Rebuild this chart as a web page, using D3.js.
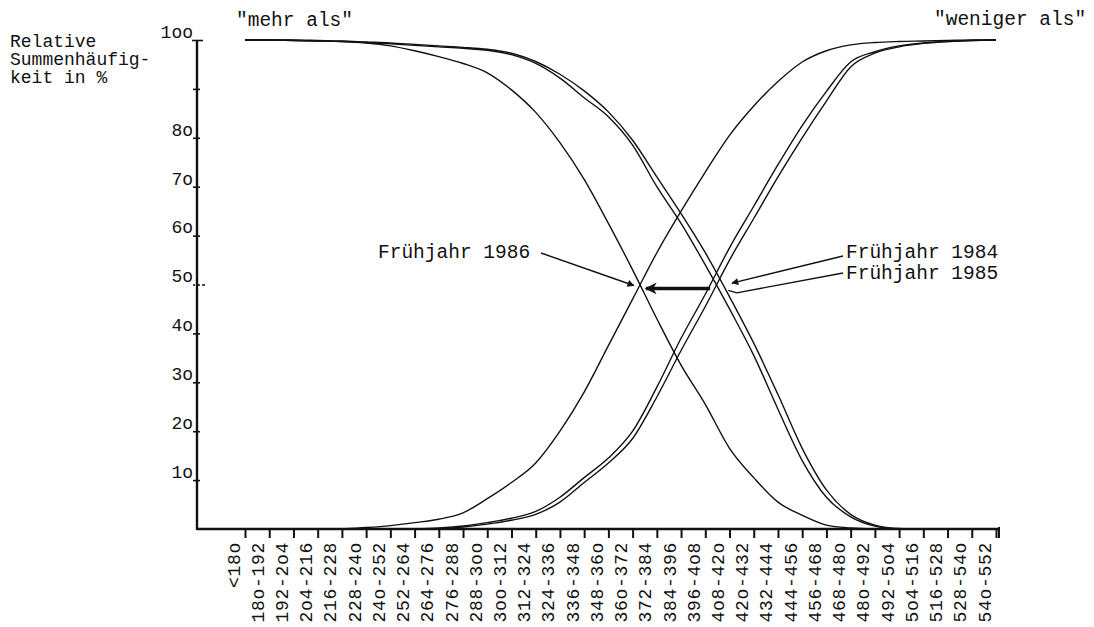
<!DOCTYPE html>
<html>
<head>
<meta charset="utf-8">
<script src="https://cdn.jsdelivr.net/npm/d3@7/dist/d3.min.js"></script>
<style>
  body { margin: 0; background: #fff; }
  text { font-family: "Liberation Mono", "DejaVu Sans Mono", monospace; fill: #111; }
</style>
</head>
<body>
<div id="chart"></div>
<script>
const width = 1094;
const height = 627;

// class labels as typed on the original (typewriter "o" for zero)
const categories = ["<18o", "18o-192", "192-2o4", "2o4-216", "216-228", "228-24o", "24o-252",
    "252-264", "264-276", "276-288", "288-3oo", "3oo-312", "312-324", "324-336", "336-348",
    "348-36o", "36o-372", "372-384", "384-396", "396-4o8", "4o8-42o", "42o-432", "432-444",
    "444-456", "456-468", "468-48o", "48o-492", "492-5o4", "5o4-516", "516-528", "528-54o", "54o-552"];

const yTickValues = [10, 20, 30, 40, 50, 60, 70, 80, 90, 100];
const yTickLabels = ["1o", "2o", "3o", "4o", "5o", "6o", "7o", "8o", "", "1oo"];

// "mehr als" (descending cumulative, %)
const mehr1984 = [100, 100, 100, 99.9, 99.8, 99.6, 99.4, 99.1, 98.8, 98.5, 98.1, 97.3, 95.6, 93, 89.6, 85.3,
    79.5, 72, 64.5, 56.5, 47.5, 38, 27.5, 16.5, 8, 3, 0.8, 0.1, 0, null, null, null];
const mehr1985 = [100, 100, 99.9, 99.8, 99.7, 99.5, 99.2, 98.9, 98.6, 98.3, 97.9, 97, 95.2, 92.2, 88.2, 84.3,
    78.5, 70, 62.5, 54, 45, 35.5, 24.5, 14, 6.5, 2.5, 0.6, 0, null, null, null, null];
const mehr1986 = [100, 100, 99.9, 99.8, 99.7, 99.4, 98.8, 97.8, 96.6, 95.2, 93.3, 89.8, 85.2, 79, 71.5, 62.5,
    53, 43, 33.5, 25.5, 16.5, 10.5, 5.5, 2.8, 0.8, 0.2, 0, null, null, null, null, null];

// "weniger als" (ascending cumulative, %)
const weniger1984 = [null, null, null, null, null, null, null, null, 0, 0.4, 1, 1.8, 3, 5.5, 9.5, 13.5,
    18.5, 27, 36.5, 45.5, 55, 63.5, 72, 80, 87.5, 94.5, 97.3, 98.6, 99.3, 99.7, 99.9, 100];
const weniger1985 = [null, null, null, null, null, null, null, 0, 0.2, 0.6, 1.3, 2.2, 3.6, 6.5, 10.5, 14.5,
    20, 29, 39, 48, 57.5, 66, 74.5, 82.5, 89.5, 95.5, 97.6, 98.8, 99.4, 99.7, 99.9, 100];
const weniger1986 = [null, null, null, null, 0, 0.3, 0.7, 1.3, 2, 3.3, 6.2, 9.5, 13.5, 20, 28, 37.5,
    47, 56.5, 65, 73, 80.5, 86.5, 91.5, 95.5, 97.8, 99, 99.5, 99.7, 99.8, 99.9, 100, 100];

const series = [mehr1984, mehr1985, mehr1986, weniger1984, weniger1985, weniger1986];

const svg = d3.select("#chart")
    .append("svg")
    .attr("width", width)
    .attr("height", height)
    .style("background", "#fff");

const x = d3.scalePoint().domain(categories).range([245, 996]);
// same positions, but by index so annotations can sit between classes
const xi = d3.scaleLinear().domain([0, categories.length - 1]).range([245, 996]);
const y = d3.scaleLinear().domain([0, 100]).range([529, 40]);

const defs = svg.append("defs");
defs.append("marker")
    .attr("id", "head")
    .attr("viewBox", "0 0 10 10")
    .attr("refX", 9).attr("refY", 5)
    .attr("markerWidth", 9).attr("markerHeight", 7)
    .attr("markerUnits", "userSpaceOnUse")
    .attr("orient", "auto")
    .append("path").attr("d", "M0,0L10,5L0,10z").attr("fill", "#111");
defs.append("marker")
    .attr("id", "bighead")
    .attr("viewBox", "0 0 10 10")
    .attr("refX", 9).attr("refY", 5)
    .attr("markerWidth", 14).attr("markerHeight", 12)
    .attr("markerUnits", "userSpaceOnUse")
    .attr("orient", "auto")
    .append("path").attr("d", "M0,0L10,5L0,10L3,5z").attr("fill", "#111");

// x axis
const xAxis = svg.append("g")
    .attr("transform", `translate(0,${y(0)})`)
    .call(d3.axisBottom(x).tickSize(9).tickSizeOuter(0));
xAxis.select(".domain").remove();
xAxis.selectAll(".tick line").attr("stroke", "#111").attr("stroke-width", 2);
xAxis.selectAll(".tick text")
    .attr("transform", "translate(-6,13) rotate(-90)")
    .attr("text-anchor", "end")
    .attr("x", 0).attr("y", 0).attr("dy", 0)
    .style("font-size", "18px")
    .style("letter-spacing", "0.7px")
    .style("font-family", "\"Liberation Mono\", monospace");

svg.append("line")
    .attr("x1", 197).attr("x2", 999)
    .attr("y1", y(0)).attr("y2", y(0))
    .attr("stroke", "#111").attr("stroke-width", 2.4);
svg.append("line")
    .attr("x1", 999).attr("x2", 999)
    .attr("y1", y(0) - 2).attr("y2", y(0) + 9)
    .attr("stroke", "#111").attr("stroke-width", 2);

// y axis
const yAxis = svg.append("g")
    .attr("transform", "translate(197,0)")
    .call(d3.axisLeft(y).tickValues(yTickValues)
        .tickFormat((d, i) => yTickLabels[i])
        .tickSize(4).tickSizeOuter(0));
yAxis.select(".domain").remove();
yAxis.selectAll(".tick line")
    .attr("x1", d => d === 100 ? 6 : (d === 50 ? 8 : 3))
    .attr("x2", d => d === 100 ? -5 : -4)
    .attr("stroke", "#111").attr("stroke-width", 1.6)
    .attr("stroke-dasharray", d => d === 50 ? "3,2" : null);
yAxis.selectAll(".tick text")
    .attr("x", -4)
    .attr("dy", "-0.15em")
    .style("font-size", "18px")
    .style("font-family", "\"Liberation Mono\", monospace");
svg.append("line")
    .attr("x1", 197).attr("x2", 197)
    .attr("y1", y(100)).attr("y2", y(0) + 1)
    .attr("stroke", "#111").attr("stroke-width", 2.4);

// curves
const line = d3.line()
    .defined(d => d != null)
    .x((d, i) => x(categories[i]))
    .y(d => y(d))
    .curve(d3.curveMonotoneX);

svg.append("g")
    .selectAll("path")
    .data(series)
    .enter().append("path")
    .attr("d", line)
    .attr("fill", "none")
    .attr("stroke", "#111")
    .attr("stroke-width", 1.4);

// texts
const txt = (s, tx, ty, size) => svg.append("text")
    .attr("x", tx).attr("y", ty)
    .style("font-size", size + "px")
    .text(s);

txt("Relative", 10, 47, 18);
txt("Summenhäufig-", 10, 65, 18);
txt("keit in %", 10, 83, 18);
txt("\"mehr als\"", 236, 26, 19.5);
txt("\"weniger als\"", 934, 25, 19.5);
txt("Frühjahr 1986", 378, 258, 19.5);
txt("Frühjahr 1984", 846, 258, 19.5);
txt("Frühjahr 1985", 846, 279, 19.5);

// pointers
svg.append("line")
    .attr("x1", 541).attr("y1", 253)
    .attr("x2", xi(16.05)).attr("y2", y(50) + 1)
    .attr("stroke", "#111").attr("stroke-width", 1.4)
    .attr("marker-end", "url(#head)");

svg.append("line")
    .attr("x1", xi(19.2)).attr("y1", y(49.2))
    .attr("x2", xi(16.55)).attr("y2", y(49.2))
    .attr("stroke", "#111").attr("stroke-width", 3.5)
    .attr("marker-end", "url(#bighead)");

svg.append("line")
    .attr("x1", 843).attr("y1", 256)
    .attr("x2", xi(20.1)).attr("y2", y(50.3))
    .attr("stroke", "#111").attr("stroke-width", 1.3)
    .attr("marker-end", "url(#head)");

svg.append("path")
    .attr("d", `M843,273L${xi(20.3)},${y(48.3)}L${xi(19.95)},${y(48.8)}`)
    .attr("fill", "none")
    .attr("stroke", "#111").attr("stroke-width", 1.3);
</script>
</body>
</html>
